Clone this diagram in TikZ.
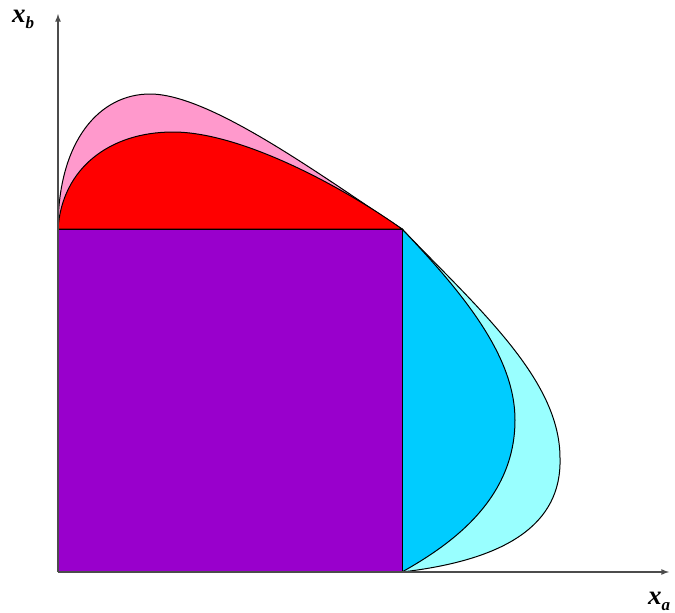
\documentclass[tikz,border=0pt]{standalone}
\usepackage{fontspec}
\setmainfont{Liberation Serif}
\begin{document}
\begin{tikzpicture}[x=1pt,y=-1pt,
  region/.style={draw=black,line width=1pt},
  axis/.style={draw=black!70,line width=1.6pt},
  lbl/.style={font=\fontsize{27}{27}\selectfont\bfseries\itshape,inner sep=0pt}]
\useasboundingbox (0,0) rectangle (675,613);
\coordinate (O) at (58,572);
\coordinate (A) at (58,229);
\coordinate (B) at (402,229);
\coordinate (C) at (402,572);
% pink
\fill[fill={rgb,255:red,255;green,153;blue,204},region]
  (A) .. controls (58,140) and (100,94) .. (150,94)
      .. controls (210,94) and (320,175) .. (B) -- cycle;
% red
\fill[fill=red,region]
  (A) .. controls (62,168) and (110,132) .. (173,132)
      .. controls (240,132) and (340,185) .. (B) -- cycle;
% light cyan
\fill[fill={rgb,255:red,153;green,255;blue,255},region]
  (B) .. controls (480,310) and (560,380) .. (560,458)
      .. controls (562,525) and (505,560) .. (C) -- cycle;
% cyan
\fill[fill={rgb,255:red,0;green,204;blue,255},region]
  (B) .. controls (470,300) and (515,360) .. (515,420)
      .. controls (515,500) and (450,545) .. (C) -- cycle;
% purple square
\fill[fill={rgb,255:red,153;green,0;blue,204},region] (A) rectangle (C);
% axes
\coordinate (ytip) at (58,14);
\coordinate (xtip) at (669,572);
\draw[axis,-latex] (O) -- (ytip);
\draw[axis,-latex] (O) -- (xtip);
\node[lbl,anchor=base west] (xb) at (12,22) {x\raisebox{-0.25em}{\fontsize{17}{17}\selectfont b}};
\node[lbl,anchor=base west] (xa) at (648,604) {x\raisebox{-0.25em}{\fontsize{17}{17}\selectfont a}};
\end{tikzpicture}
\end{document}
